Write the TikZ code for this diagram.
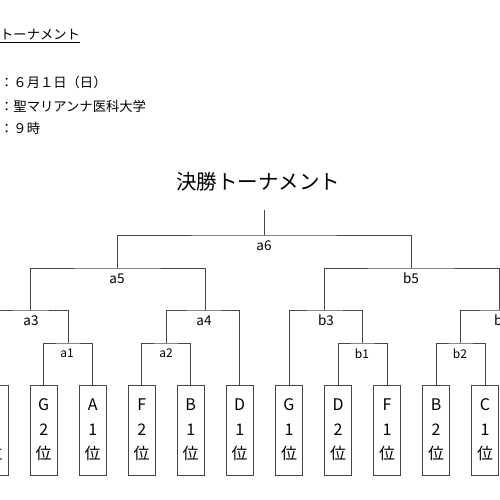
\documentclass[tikz,border=0pt]{standalone}
\usepackage{fontspec}
\setmainfont{Noto Sans CJK JP}
\begin{document}
\begin{tikzpicture}[x=1pt,y=-1pt,
  conn/.style={draw=black!72, line width=0.8pt},
  leaf/.style={draw=black!72, line width=0.8pt, minimum width=27.5pt, minimum height=90pt, inner sep=0pt, align=center, font=\fontsize{16}{24.5}\selectfont},
  lbl/.style={font=\fontsize{13.5}{15}\selectfont, inner sep=0pt},
  slbl/.style={font=\fontsize{12}{14}\selectfont, inner sep=0pt},
  hdr/.style={font=\fontsize{13.3}{16}\selectfont, inner sep=0pt, anchor=west}]
\useasboundingbox (0,0) rectangle (500,500);
\begin{scope}
\clip (0,0) rectangle (500,500);
% header
\node[hdr] (h1) at (0,35) {トーナメント};
\draw[line width=0.7pt] ([yshift=-2pt]h1.south west) -- ([yshift=-2pt]h1.south east);
\node[hdr] (h2) at (0,82) {：６月１日（日）};
\node[hdr] (h3) at (0,106) {：聖マリアンナ医科大学};
\node[hdr] (h4) at (0,128) {：９時};
% title
\node[font=\fontsize{20.5}{24}\selectfont, inner sep=0pt] (title) at (258,182) {決勝トーナメント};
% leaves
\foreach \n/\x/\t in {L0/-5.5/{\phantom{G}\\\phantom{1}\\位}, G2/43.7/{G\\2\\位}, A1/92.7/{A\\1\\位}, F2/141.7/{F\\2\\位}, B1/190.7/{B\\1\\位}, D1/239.7/{D\\1\\位}, G1/289/{G\\1\\位}, D2/338/{D\\2\\位}, F1/387/{F\\1\\位}, B2/436/{B\\2\\位}, C1/485/{C\\1\\位}, R0/534/{\phantom{G}}}
  \node[leaf] (\n) at (\x,430) {\t};
% junctions
\coordinate (top) at (264,210);
\coordinate (m6) at (264,235);
\coordinate (a5) at (117,268);
\coordinate (b5) at (411,268);
\coordinate (a3) at (30,310);
\coordinate (a4) at (205,310);
\coordinate (b3) at (324,310);
\coordinate (b4) at (499,310);
\coordinate (a1) at (68.2,343);
\coordinate (a2) at (166.2,343);
\coordinate (b1) at (362.5,343);
\coordinate (b2) at (460.5,343);
% connectors
\draw[conn] (top) -- (m6);
\draw[conn] (a5) |- (m6) -| (b5);
\draw[conn] (a3) |- (a5) -| (a4);
\draw[conn] (b3) |- (b5) -| (b4);
\draw[conn] (L0.north) |- (a3) -| (a1);
\draw[conn] (a2) |- (a4) -| (D1.north);
\draw[conn] (G1.north) |- (b3) -| (b1);
\draw[conn] (b2) |- (b4) -| (R0.north);
\draw[conn] (G2.north) |- (a1) -| (A1.north);
\draw[conn] (F2.north) |- (a2) -| (B1.north);
\draw[conn] (D2.north) |- (b1) -| (F1.north);
\draw[conn] (B2.north) |- (b2) -| (C1.north);
% labels
\node[lbl] (la6) at (264,245.5) {a6};
\node[lbl] (la5) at (117,278.5) {a5};
\node[lbl] (lb5) at (411,278.5) {b5};
\node[lbl] (la3) at (31,320.5) {a3};
\node[lbl] (la4) at (204,320.5) {a4};
\node[lbl] (lb3) at (326,320.5) {b3};
\node[lbl] (lb4) at (502,320.5) {b4};
\node[slbl] (la1) at (67,353.5) {a1};
\node[slbl] (la2) at (166,353.5) {a2};
\node[slbl] (lb1) at (362,353.5) {b1};
\node[slbl] (lb2) at (460,353.5) {b2};
\end{scope}
\end{tikzpicture}
\end{document}
